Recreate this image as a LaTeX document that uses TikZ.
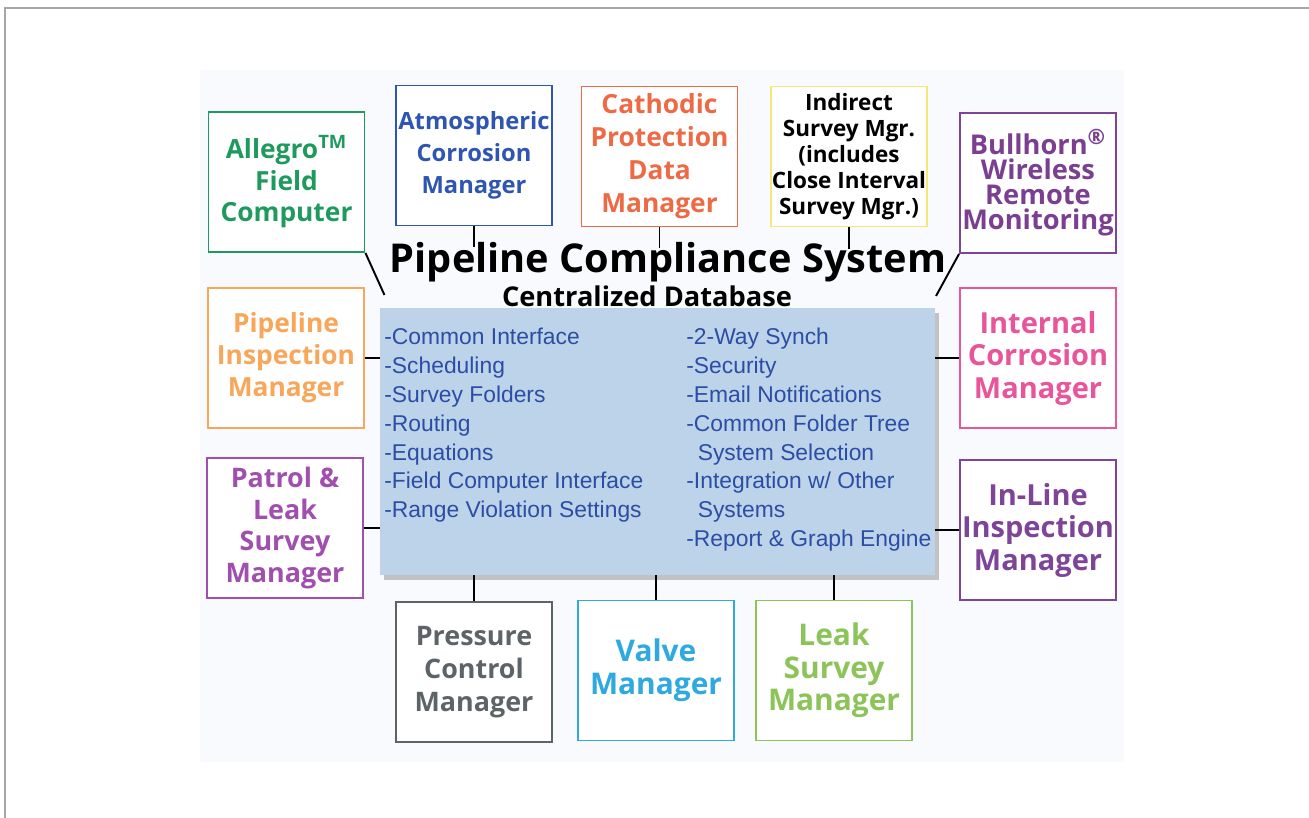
\documentclass[tikz,border=0pt]{standalone}
\usepackage{fontspec}
\setmainfont{Open Sans}
\newfontfamily\listfont{Liberation Sans}
\usetikzlibrary{shadows}

\definecolor{panelbg}{HTML}{F9FAFD}
\definecolor{dbfill}{HTML}{BCD3E9}
\definecolor{dbtext}{HTML}{2B4DA5}
\definecolor{cgreen}{HTML}{1E9A5E}
\definecolor{cblue}{HTML}{2E55B0}
\definecolor{corange}{HTML}{EE6A45}
\definecolor{cyellow}{HTML}{F8E778}
\definecolor{cpurple}{HTML}{7B3F91}
\definecolor{clorange}{HTML}{F7A65A}
\definecolor{cpink}{HTML}{E8559A}
\definecolor{cmagenta}{HTML}{A04FAE}
\definecolor{cviolet}{HTML}{7E4498}
\definecolor{cgray}{HTML}{5D6468}
\definecolor{csky}{HTML}{2FA9E0}
\definecolor{clgreen}{HTML}{8CC45A}

\newcommand\modfont[2]{\bfseries\fontsize{#1}{#2}\selectfont}

\tikzstyle {module} = [draw, line width=1.1pt, fill=white, minimum width=3.12cm, minimum height=2.8cm, align=center, inner sep=0pt, font=\modfont{15}{18.2}]
\tikzstyle {link} = [draw=black, line width=1.1pt]
\tikzstyle {itemlist} = [anchor=north west, align=left, inner sep=0pt, text=dbtext, font=\listfont\fontsize{13}{16.4}\selectfont]

\begin{document}
\begin{tikzpicture}[x=0.02cm, y=-0.02cm]
            \useasboundingbox (0,0) rectangle (1309,818);
            \draw [gray!70, line width=0.6pt] (5,818) -- (5,8) -- (1309,8);
            \fill [panelbg] (200,70) rectangle (1124,762);

            % central database
            \node [draw=none, fill=dbfill, minimum width=11.1cm, minimum height=5.34cm,
                   drop shadow={shadow xshift=2.5pt, shadow yshift=-3pt, opacity=0.45}] (db) at (657.5,441.5) {};
            \node [itemlist] (lstl) at (384,328) {-Common Interface\\-Scheduling\\-Survey Folders\\-Routing\\-Equations\\-Field Computer Interface\\-Range Violation Settings};
            \node [itemlist] (lstr) at (686,328) {-2-Way Synch\\-Security\\-Email Notifications\\-Common Folder Tree\\\hspace*{0.5em}System Selection\\-Integration w/ Other\\\hspace*{0.5em}Systems\\-Report \& Graph Engine};
            \node [font=\modfont{22.6}{26}] (title) at (668,262) {Pipeline Compliance System};
            \node [font=\modfont{15.5}{18}] (subtitle) at (647,296) {Centralized Database};

            % modules
            \node [module, draw=cgreen, text=cgreen] (afc) at (286.5,182) {Allegro\textsuperscript{TM}\\Field\\Computer};
            \node [module, draw=cblue, text=cblue, font=\modfont{13.5}{18.2}] (acm) at (474,155.5) {Atmospheric\\Corrosion\\Manager};
            \node [module, draw=corange, text=corange, font=\modfont{15}{18.8}] (cpm) at (659.5,156.5) {Cathodic\\Protection\\Data\\Manager};
            \node [module, draw=cyellow, text=black, font=\modfont{12.8}{14.8}] (ism) at (849,156.5) {Indirect\\Survey Mgr.\\(includes\\Close Interval\\Survey Mgr.)};
            \node [module, draw=cviolet, text=cpurple, font=\modfont{15.5}{14.4}] (bwr) at (1038,183) {Bullhorn\textsuperscript{\large ®}\\Wireless\\Remote\\Monitoring};
            \node [module, draw=clorange, text=clorange] (pim) at (286,358) {Pipeline\\Inspection\\Manager};
            \node [module, draw=cpink, text=cpink, font=\modfont{16.5}{18.5}] (icm) at (1038,358) {Internal\\Corrosion\\Manager};
            \node [module, draw=cmagenta, text=cmagenta, font=\modfont{15.3}{18.2}] (pls) at (285,528) {Patrol \&\\Leak\\Survey\\Manager};
            \node [module, draw=cviolet, text=cviolet, font=\modfont{16.5}{18.5}] (ilm) at (1038,530) {In-Line\\Inspection\\Manager};
            \node [module, draw=cgray, text=cgray, font=\modfont{15.3}{18.8}] (pcm) at (474,672) {Pressure\\Control\\Manager};
            \node [module, draw=csky, text=csky, font=\modfont{17}{18.8}] (vm) at (656,670.5) {Valve\\Manager};
            \node [module, draw=clgreen, text=clgreen, font=\modfont{17}{18.5}] (lsm) at (834,670.5) {Leak\\Survey\\Manager};

            % connectors
            \draw [link] (afc.south east) -- ++(19,42);
            \draw [link] (bwr.south west) -- ++(-23,42);
            \draw [link] (acm.south) -- ++(0,21);
            \draw [link] (cpm.south) -- ++(0,21);
            \draw [link] (ism.south) -- ++(0,22);
            \draw [link] (pim.east) -- (pim.east -| db.west);
            \draw [link] (pls.east) -- (pls.east -| db.west);
            \draw [link] (icm.west) -- (icm.west -| db.east);
            \draw [link] (ilm.west) -- (ilm.west -| db.east);
            \draw [link] (pcm.north) -- (pcm.north |- db.south);
            \draw [link] (vm.north) -- (vm.north |- db.south);
            \draw [link] (lsm.north) -- (lsm.north |- db.south);
        \end{tikzpicture}
\end{document}
